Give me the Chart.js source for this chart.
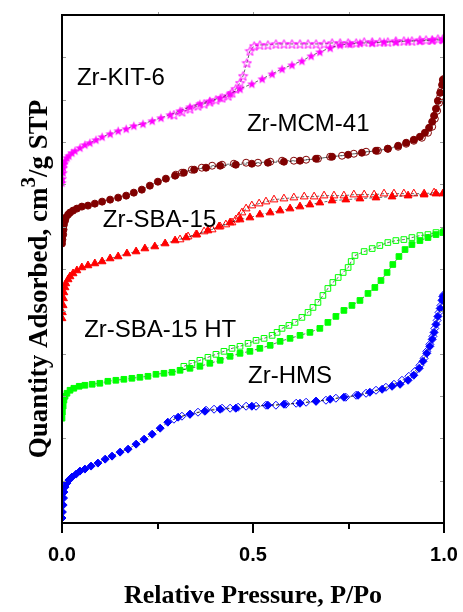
<!DOCTYPE html>
<html><head><meta charset="utf-8">
<script src="https://cdn.jsdelivr.net/npm/chart.js@4/dist/chart.umd.min.js"></script>
<style>html,body{margin:0;padding:0;background:#fff}</style>
</head><body>
<canvas id="c" width="463" height="612"></canvas>
<script>
// ---- data (x = P/Po, y = quantity adsorbed, arbitrary offset units) ----
const kitAdsX = [0.000,0.001,0.003,0.004,0.006,0.008,0.013,0.018,0.026,0.034,0.047,0.060,0.073,0.089,0.105,0.126,0.147,0.168,0.188,0.212,0.236,0.259,0.283,0.309,0.335,0.361,0.387,0.414,0.440,0.466,0.497,0.524,0.550,0.576,0.602,0.628,0.652,0.675,0.702,0.728,0.754,0.780,0.812,0.843,0.874,0.906,0.937,0.969,0.997];
const kitAdsY = [341,345,351,356,360,363,366,368,371,373,376,379,381,384,387,390,393,395,398,400,403,406,409,413,417,420,423,426,430,435,440,445,450,455,459,463,468,472,476,479,480,481,481,482,482,483,483,484,484];
const kitDesX = [0.997,0.984,0.969,0.953,0.937,0.916,0.895,0.874,0.853,0.832,0.812,0.791,0.770,0.749,0.728,0.707,0.686,0.665,0.644,0.623,0.602,0.581,0.560,0.539,0.518,0.503,0.492,0.484,0.474,0.466,0.455,0.445,0.435,0.419,0.403,0.387,0.372,0.356,0.335,0.314,0.293];
const kitDesY = [485,485,484,484,484,483,483,483,482,482,482,482,481,481,481,481,480,480,480,480,480,480,480,479,479,478,473,461,448,441,435,431,428,426,424,422,420,418,415,412,409];

const mcmAdsX = [0.000,0.001,0.003,0.004,0.005,0.008,0.010,0.016,0.021,0.029,0.039,0.052,0.068,0.086,0.105,0.126,0.147,0.168,0.188,0.209,0.230,0.251,0.272,0.296,0.319,0.346,0.377,0.414,0.455,0.497,0.539,0.581,0.623,0.665,0.707,0.749,0.785,0.822,0.853,0.880,0.901,0.921,0.937,0.950,0.961,0.969,0.974,0.979,0.984,0.990,0.995,0.997];
const mcmAdsY = [280,284,289,294,299,303,306,309,311,313,315,317,318,320,322,324,326,328,331,334,338,342,345,348,351,354,356,358,359,360,361,362,363,365,367,369,371,373,375,378,381,384,387,391,396,402,408,415,423,431,439,444];
const mcmDesX = [1.000,0.997,0.992,0.990,0.987,0.982,0.976,0.969,0.958,0.942,0.921,0.901,0.880,0.853,0.827,0.796,0.764,0.733,0.702,0.670,0.639,0.607,0.576,0.545,0.513,0.482,0.450,0.419,0.393,0.366,0.340,0.314,0.298];
const mcmDesY = [445,439,433,427,421,413,405,397,391,386,383,380,377,375,373,372,370,368,367,365,364,363,363,362,361,361,360,359,358,356,354,351,349];

const sbaAdsX = [0.000,0.001,0.003,0.004,0.005,0.008,0.010,0.016,0.021,0.029,0.039,0.052,0.068,0.086,0.105,0.126,0.147,0.170,0.194,0.217,0.243,0.270,0.296,0.325,0.353,0.382,0.411,0.440,0.466,0.492,0.518,0.545,0.571,0.597,0.623,0.649,0.675,0.707,0.743,0.780,0.822,0.864,0.906,0.948,0.979,0.997];
const sbaAdsY = [205,211,218,225,231,236,240,244,247,250,253,256,258,260,262,265,267,270,272,275,277,280,283,286,289,293,297,301,304,306,309,311,313,315,317,319,321,323,324,325,326,327,328,329,330,330];
const sbaDesX = [1.000,0.974,0.948,0.921,0.895,0.869,0.843,0.817,0.791,0.764,0.738,0.712,0.686,0.660,0.634,0.607,0.581,0.555,0.534,0.516,0.497,0.482,0.471,0.463,0.455,0.445,0.429,0.414,0.393,0.372,0.351,0.330,0.309];
const sbaDesY = [331,331,330,330,330,330,330,329,329,329,328,328,328,327,327,326,325,324,322,320,318,315,311,307,304,301,299,297,294,292,289,287,284];

const htAdsX = [0.000,0.001,0.003,0.005,0.008,0.013,0.021,0.031,0.045,0.060,0.079,0.099,0.120,0.141,0.162,0.183,0.204,0.225,0.246,0.267,0.288,0.309,0.335,0.361,0.387,0.414,0.440,0.466,0.492,0.518,0.545,0.571,0.597,0.623,0.649,0.675,0.696,0.717,0.738,0.759,0.780,0.801,0.819,0.835,0.851,0.866,0.882,0.898,0.916,0.937,0.958,0.979,0.997];
const htAdsY = [105,111,117,123,127,130,133,135,137,138,139,140,142,143,144,145,146,147,149,150,151,153,155,157,160,163,167,170,172,175,178,182,185,188,191,195,201,207,213,218,223,230,236,243,251,259,267,274,279,283,286,289,291];
const htDesX = [1.000,0.979,0.958,0.937,0.916,0.895,0.874,0.853,0.832,0.812,0.791,0.767,0.757,0.749,0.736,0.723,0.709,0.696,0.683,0.670,0.657,0.644,0.628,0.610,0.594,0.576,0.563,0.550,0.529,0.508,0.487,0.466,0.445,0.424,0.403,0.382,0.361,0.340,0.319];
const htDesY = [292,291,289,288,286,284,283,281,278,275,272,268,262,256,251,246,241,235,228,221,216,211,206,201,198,195,191,188,185,183,180,177,175,172,169,166,163,160,157];

const hmsAdsX = [0.000,0.001,0.003,0.004,0.005,0.008,0.013,0.018,0.026,0.037,0.047,0.060,0.076,0.094,0.113,0.131,0.152,0.173,0.194,0.215,0.236,0.257,0.277,0.304,0.335,0.374,0.414,0.455,0.497,0.539,0.581,0.623,0.665,0.702,0.738,0.775,0.806,0.838,0.864,0.885,0.906,0.921,0.935,0.945,0.955,0.963,0.969,0.974,0.979,0.984,0.990,0.995,0.997];
const hmsAdsY = [5,11,18,25,31,36,40,43,46,49,52,54,57,60,64,67,71,74,79,84,89,95,101,106,109,112,114,115,117,118,119,120,122,124,126,128,131,134,137,139,143,148,155,162,170,177,184,191,199,207,215,223,227];
const hmsDesX = [1.000,0.997,0.992,0.987,0.982,0.976,0.971,0.963,0.955,0.948,0.937,0.924,0.908,0.890,0.869,0.848,0.822,0.796,0.770,0.743,0.717,0.691,0.665,0.639,0.613,0.586,0.560,0.534,0.508,0.482,0.461,0.440,0.419,0.398,0.377,0.356,0.335,0.314,0.293];
const hmsDesY = [229,224,218,211,203,195,187,179,172,165,158,152,147,143,139,136,133,130,128,126,125,123,122,121,120,119,118,118,117,117,116,115,115,114,113,111,109,107,104];

const sampleNames = ['Zr-KIT-6','Zr-MCM-41','Zr-SBA-15','Zr-SBA-15 HT','Zr-HMS'];
const labelX = [0.039,0.484,0.107,0.058,0.487];
const labelY = [446,399,303,193,147];
const xTickLabels = {0:'0.0',0.5:'0.5',1:'1.0'};
const xTitle = 'Relative Pressure, P/Po';
const yTitleMain = 'Quantity Adsorbed, cm';
const yTitleSup = '3';
const yTitleEnd = '/g STP';

// ---- helpers ----
function pts(xs, ys){ return xs.map((x,i)=>({x:x, y:ys[i]})); }
function makeStar(color, filled){
  const s = 11, c = document.createElement('canvas');
  c.width = s; c.height = s;
  const g = c.getContext('2d');
  const cx = s/2, cy = s/2 + 0.5, R = s/2 - 0.6, r = R*0.42;
  g.beginPath();
  for (let i=0;i<10;i++){
    const ang = -Math.PI/2 + i*Math.PI/5;
    const rad = i%2===0 ? R : r;
    const px = cx + rad*Math.cos(ang), py = cy + rad*Math.sin(ang);
    if(i===0) g.moveTo(px,py); else g.lineTo(px,py);
  }
  g.closePath();
  if (filled){ g.fillStyle = color; g.fill(); }
  else { g.strokeStyle = color; g.lineWidth = 1; g.stroke(); }
  return c;
}

const MAG='#ff00ff', MAROON='#800000', RED='#ff0000', GREEN='#00ff00', BLUE='#0000ff';
const NONE='rgba(0,0,0,0)';
function ds(data, color, style, filled, radius){
  return {
    data: data, showLine: true,
    borderColor: '#000', borderWidth: 0.6, borderDash: [3,2],
    pointStyle: style, pointRadius: radius, pointHoverRadius: radius,
    pointBackgroundColor: filled ? color : NONE,
    pointBorderColor: color, pointBorderWidth: 1
  };
}

const datasets = [
  ds(pts(hmsAdsX,hmsAdsY), BLUE, 'rectRot', true, 4),
  ds(pts(hmsDesX,hmsDesY), BLUE, 'rectRot', false, 4),
  ds(pts(htAdsX,htAdsY), GREEN, 'rect', true, 4),
  ds(pts(htDesX,htDesY), GREEN, 'rect', false, 4),
  ds(pts(sbaAdsX,sbaAdsY), RED, 'triangle', true, 4.5),
  ds(pts(sbaDesX,sbaDesY), RED, 'triangle', false, 4.5),
  ds(pts(mcmAdsX,mcmAdsY), MAROON, 'circle', true, 3.5),
  ds(pts(mcmDesX,mcmDesY), MAROON, 'circle', false, 3.5),
  ds(pts(kitAdsX,kitAdsY), MAG, makeStar(MAG,true), true, 5),
  ds(pts(kitDesX,kitDesY), MAG, makeStar(MAG,false), false, 5)
];

const framePlugin = {
  id: 'frame',
  afterDraw(chart){
    const {ctx, chartArea:a, scales} = chart;
    const xs = scales.x, ys = scales.y;
    ctx.save();
    // faint ticks on left/right/top
    ctx.strokeStyle = '#9a9a9a'; ctx.lineWidth = 1;
    const step = 509/12;
    for (let v = step; v < 509; v += step){
      const py = Math.round(ys.getPixelForValue(v)) + 0.5;
      ctx.beginPath(); ctx.moveTo(a.left, py); ctx.lineTo(a.left+4, py); ctx.stroke();
      ctx.beginPath(); ctx.moveTo(a.right, py); ctx.lineTo(a.right-4, py); ctx.stroke();
    }
    [0.25,0.5,0.75].forEach(v=>{
      const px = Math.round(xs.getPixelForValue(v)) + 0.5;
      ctx.beginPath(); ctx.moveTo(px, a.top); ctx.lineTo(px, a.top-3); ctx.stroke();
    });
    // frame
    ctx.strokeStyle = '#000'; ctx.lineWidth = 2;
    ctx.strokeRect(a.left, a.top, a.right-a.left, a.bottom-a.top);
    // bottom ticks
    [0,0.25,0.5,0.75,1].forEach(v=>{
      const px = Math.round(xs.getPixelForValue(v));
      const len = (v===0.25||v===0.75) ? 6 : 10;
      ctx.beginPath(); ctx.moveTo(px, a.bottom); ctx.lineTo(px, a.bottom+len); ctx.stroke();
    });
    // y title with superscript
    ctx.translate(37, (a.top+a.bottom)/2 + 10);
    ctx.rotate(-Math.PI/2);
    ctx.fillStyle = '#000';
    const fMain = 'bold 27px "Liberation Serif", "Times New Roman", serif';
    const fSup = 'bold 21px "Liberation Serif", "Times New Roman", serif';
    ctx.font = fMain; const w1 = ctx.measureText(yTitleMain).width, w3 = ctx.measureText(yTitleEnd).width;
    ctx.font = fSup; const w2 = ctx.measureText(yTitleSup).width;
    const total = w1 + w2 + w3;
    let x0 = -total/2;
    ctx.textBaseline = 'alphabetic'; ctx.textAlign = 'left';
    ctx.font = fMain; ctx.fillText(yTitleMain, x0, 10);
    ctx.font = fSup; ctx.fillText(yTitleSup, x0 + w1, -2);
    ctx.font = fMain; ctx.fillText(yTitleEnd, x0 + w1 + w2, 10);
    ctx.restore();
  },
  afterDatasetsDraw(chart){
    const {ctx, scales} = chart;
    ctx.save();
    ctx.fillStyle = '#000';
    ctx.font = '24px "Liberation Sans", Arial, sans-serif';
    ctx.textAlign = 'left'; ctx.textBaseline = 'middle';
    sampleNames.forEach((n,i)=>{
      ctx.fillText(n, scales.x.getPixelForValue(labelX[i]), scales.y.getPixelForValue(labelY[i]));
    });
    ctx.restore();
  }
};

new Chart(document.getElementById('c'), {
  type: 'scatter',
  data: { datasets },
  plugins: [framePlugin],
  options: {
    responsive: false, animation: false, devicePixelRatio: 1,
    layout: { padding: { left: 62, right: 19, top: 15, bottom: 0 } },
    plugins: { legend: { display: false }, tooltip: { enabled: false } },
    scales: {
      x: {
        type: 'linear', min: 0, max: 1,
        afterFit(s){ s.height = 89; s.paddingLeft = 0; s.paddingRight = 0; },
        grid: { display: false }, border: { display: false },
        ticks: {
          stepSize: 0.25, autoSkip: false, maxRotation: 0, padding: 12,
          color: '#000', font: { family: '"Liberation Sans", Arial, sans-serif', size: 20, weight: 'bold' },
          callback(v){ for (const k in xTickLabels){ if (Math.abs(v - Number(k)) < 1e-6) return xTickLabels[k]; } return ''; }
        },
        title: { display: true, text: xTitle, color: '#000', padding: { top: 0, bottom: 0 },
          font: { family: '"Liberation Serif", "Times New Roman", serif', size: 26, weight: 'bold' } }
      },
      y: { type: 'linear', min: 0, max: 509, display: false }
    }
  }
});
</script>
</body></html>
